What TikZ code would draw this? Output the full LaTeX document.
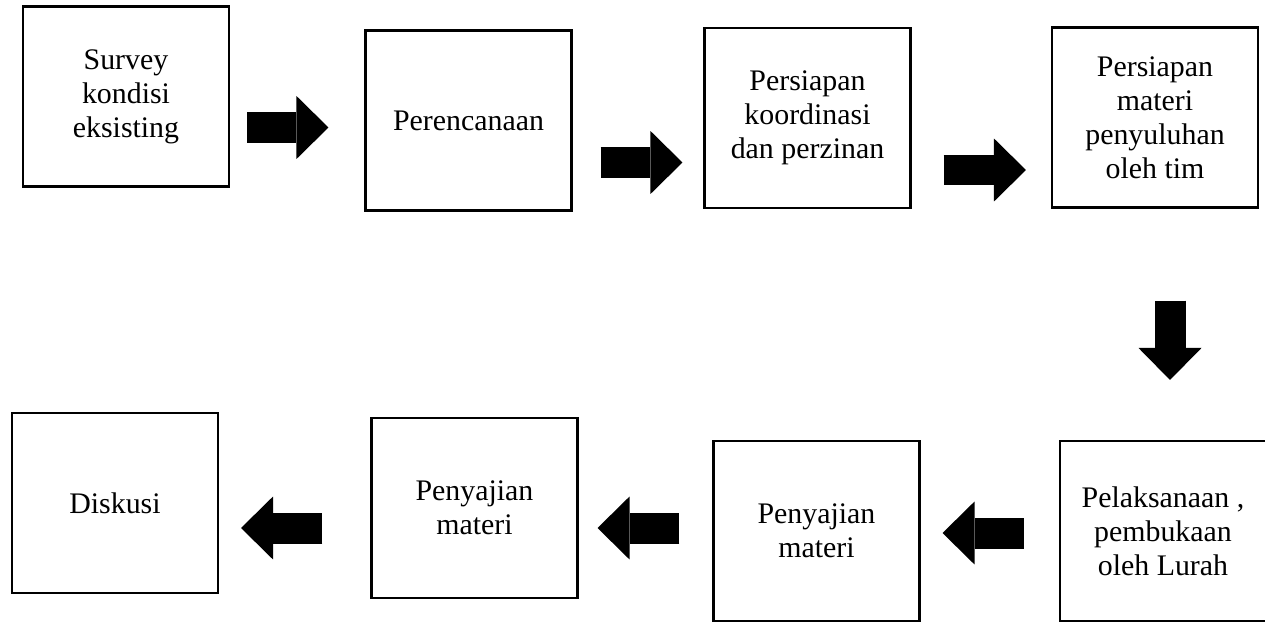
\documentclass[tikz,border=0pt]{standalone}
\usepackage{fontspec}
\setmainfont{Liberation Serif}
\usetikzlibrary{arrows.meta}

\begin{document}
\begin{tikzpicture}[x=0.02cm,y=-0.02cm]
    \tikzstyle{stage}=[rectangle,draw=black,line width=1.2pt,minimum width=4.12cm,minimum height=3.6cm,inner sep=0pt,align=center,font=\fontsize{17}{19.4}\selectfont]
    \tikzstyle{fat}=[line width=0.62cm,-{Triangle[length=0.64cm,width=1.26cm,line width=0pt]}]
    \useasboundingbox (0,0) rectangle (1265,622);

    \foreach \num/\x/\y/\txt in {1/126/96.5/{Survey\\kondisi\\eksisting}, 2/468.5/120.5/{Perencanaan},
            3/807.5/118/{Persiapan\\koordinasi\\dan perzinan}, 4/1155/117.5/{Persiapan\\materi\\penyuluhan\\oleh tim},
            5/115/503/{Diskusi}, 6/474.5/508/{Penyajian\\materi},
            7/816.5/531/{Penyajian\\materi}, 8/1163/531/{Pelaksanaan ,\\pembukaan\\oleh Lurah}}
        \node[stage] (S-\num) at (\x,\y) {\txt};

    % top row, to the right
    \foreach \from/\to/\y/\s/\e in {1/2/127.5/0.34/0.72, 2/3/162.5/0.56/0.42, 3/4/170/0.64/0.5}
        \draw[fat,shorten <=\s cm,shorten >=\e cm] (S-\from.east |- 0,\y) -- (S-\to.west |- 0,\y);

    \draw[fat,shorten <=1.84cm,shorten >=1.2cm] (S-4.south -| 1170,0) -- (S-8.north -| 1170,0);

    % bottom row, to the left
    \foreach \from/\to/\y/\s/\e in {8/7/533/0.7/0.44, 7/6/528/0.66/0.38, 6/5/528/0.96/0.44}
        \draw[fat,shorten <=\s cm,shorten >=\e cm] (S-\from.west |- 0,\y) -- (S-\to.east |- 0,\y);
\end{tikzpicture}
\end{document}
